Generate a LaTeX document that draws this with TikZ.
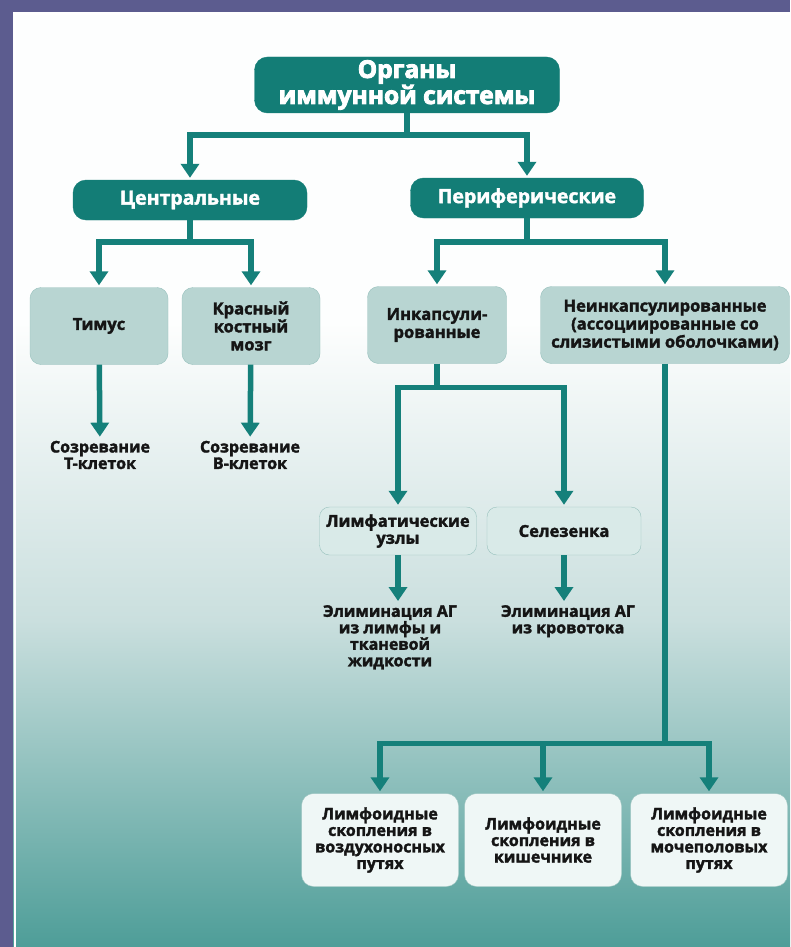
\documentclass[tikz,border=0pt]{standalone}
\usepackage{fontspec}
\setmainfont{Open Sans}[BoldFeatures={FakeBold=2}]
\newfontfamily\heavysans{Open Sans}[BoldFeatures={FakeBold=3.5}]
\usetikzlibrary{arrows.meta}

\definecolor{slide}{HTML}{5C5C8F}
\definecolor{darkteal}{HTML}{137D76}
\definecolor{lineteal}{HTML}{15807A}
\definecolor{midbox}{HTML}{B8D5D2}
\definecolor{midline}{HTML}{98C1BD}
\definecolor{lightbox}{HTML}{D9EAE8}
\definecolor{palebox}{HTML}{EFF7F6}
\definecolor{inktext}{HTML}{151515}
\definecolor{fadeteal}{HTML}{CADFDE}

\tikzset{
  headbox/.style={draw=darkteal, fill=darkteal, rounded corners=13pt, text=white,
    font=\bfseries\fontsize{19.5}{21}\selectfont, align=center, inner sep=0pt},
  organbox/.style={draw=midline, fill=midbox, rounded corners=11pt, text=inktext,
    font=\bfseries\fontsize{16.5}{18}\selectfont, align=center, inner sep=0pt,
    minimum height=77pt},
  nodebox/.style={draw=midline, fill=lightbox, rounded corners=10pt, text=inktext,
    font=\bfseries\fontsize{16.5}{17}\selectfont, align=center, inner sep=0pt,
    minimum height=48pt},
  tissuebox/.style={draw=midline, fill=palebox, rounded corners=12pt, text=inktext,
    font=\bfseries\fontsize{16}{16.5}\selectfont, align=center, inner sep=0pt,
    minimum width=157pt, minimum height=93pt},
  result/.style={text=inktext, font=\bfseries\fontsize{16}{16.5}\selectfont,
    align=center, inner sep=2pt},
  tealline/.style={draw=lineteal, line width=5.5pt},
  tealarrow/.style={tealline, -{Triangle[width=18pt,length=14pt]}, shorten >=2pt}
}

\begin{document}
\begin{tikzpicture}[x=1pt,y=-1pt]
\useasboundingbox (0,0) rectangle (790,947);

% slide background
\fill[slide] (0,0) rectangle (790,947);
\fill[white!96!lightbox] (13,12) rectangle (790,320);
\shade[top color=white!96!lightbox, bottom color=fadeteal] (13,320) rectangle (790,620);
\shade[top color=fadeteal, bottom color=darkteal!75] (13,620) rectangle (790,947);
\draw[white, line width=2.5pt] (15,947) -- (15,13.5) -- (790,13.5);

% boxes
\node[headbox, minimum width=305pt, minimum height=56pt,
  font=\heavysans\bfseries\fontsize{24.5}{23}\selectfont] (organs) at (407,85) {Органы\\иммунной системы};
\node[headbox, minimum width=234pt, minimum height=40pt] (central) at (190,200) {Центральные};
\node[headbox, minimum width=233pt, minimum height=40pt] (periph) at (527,198) {Периферические};

\node[organbox, minimum width=138pt] (thymus) at (99,326) {Тимус};
\node[organbox, minimum width=138pt] (marrow) at (251,326) {Красный\\костный\\мозг};
\node[organbox, minimum width=139pt] (encaps) at (437,325) {Инкапсули-\\рованные};
\node[organbox, minimum width=249pt] (nonencaps) at (665,325) {Неинкапсулированные\\(ассоциированные со\\слизистыми оболочками)};

\node[result] (tcells) at (100,455) {Созревание\\Т-клеток};
\node[result] (bcells) at (250,455) {Созревание\\В-клеток};

\node[nodebox, minimum width=157pt] (lymph) at (398,531) {Лимфатические\\узлы};
\node[nodebox, minimum width=154pt] (spleen) at (564,531) {Селезенка};

\node[result, anchor=north] (elimlymph) at (390,603) {Элиминация АГ\\из лимфы и\\тканевой\\жидкости};
\node[result, anchor=north] (elimblood) at (568,603) {Элиминация АГ\\из кровотока};

\node[tissuebox] (airway) at (380,840) {Лимфоидные\\скопления в\\воздухоносных\\путях};
\node[tissuebox] (gut) at (543,840) {Лимфоидные\\скопления в\\кишечнике};
\node[tissuebox] (urogen) at (709,840) {Лимфоидные\\скопления в\\мочеполовых\\путях};

% connectors
\draw[tealline] (organs.south) -- ++(0,22) coordinate (jorg);
\draw[tealarrow] (jorg) -| (central.north);
\draw[tealarrow] (jorg) -| (periph.north);

\draw[tealline] (central.south) -- ++(0,22) coordinate (jcen);
\draw[tealarrow] (jcen) -| (thymus.north);
\draw[tealarrow] (jcen) -| (marrow.north);

\draw[tealline] (periph.south) -- ++(0,24) coordinate (jper);
\draw[tealarrow] (jper) -| (encaps.north);
\draw[tealarrow] (jper) -| (nonencaps.north);

\draw[tealarrow] (thymus) -- (tcells);
\draw[tealarrow] (marrow) -- (bcells);

\draw[tealline] (encaps.south) -- ++(0,24) coordinate (jenc);
\draw[tealarrow] (jenc) -| (lymph.north);
\draw[tealarrow] (jenc) -| (spleen.north);

\draw[tealarrow] (lymph.south) -- (lymph.south |- elimlymph.north);
\draw[tealarrow] (spleen.south) -- (spleen.south |- elimblood.north);

\draw[tealline] (nonencaps.south) -- ++(0,380) coordinate (jnon);
\draw[tealarrow] (jnon) -| (airway.north);
\draw[tealarrow] (jnon) -| (urogen.north);
\draw[tealarrow] (gut.north |- jnon) -- (gut.north);
\end{tikzpicture}
\end{document}
